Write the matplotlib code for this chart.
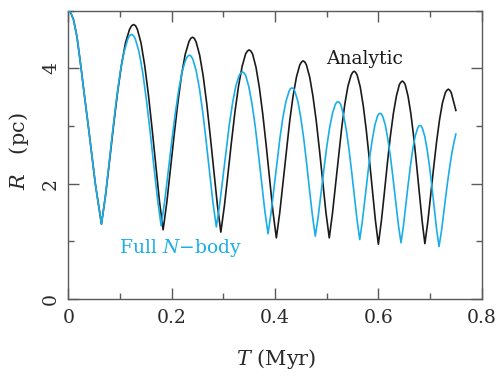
import matplotlib
matplotlib.use('Agg')
import matplotlib.pyplot as plt
from matplotlib.ticker import MultipleLocator, FixedLocator, FixedFormatter

# ---- data ----
t_analytic = [0.0000, 0.0050, 0.0100, 0.0168, 0.0246, 0.0300, 0.0350, 0.0400, 0.0460, 0.0523, 0.0585, 0.0642,
              0.0720, 0.0798, 0.0876, 0.0953, 0.1031, 0.1109, 0.1187, 0.1226, 0.1265,
              0.1301, 0.1336, 0.1408, 0.1479, 0.1550, 0.1621, 0.1693, 0.1764, 0.1835,
              0.1906, 0.1977, 0.2049, 0.2120, 0.2191, 0.2262, 0.2334, 0.2369, 0.2405,
              0.2439, 0.2473, 0.2542, 0.2610, 0.2679, 0.2747, 0.2815, 0.2884, 0.2952,
              0.3020, 0.3089, 0.3157, 0.3226, 0.3294, 0.3363, 0.3431, 0.3466, 0.3500,
              0.3533, 0.3566, 0.3632, 0.3697, 0.3763, 0.3829, 0.3895, 0.3960, 0.4026,
              0.4091, 0.4156, 0.4221, 0.4285, 0.4350, 0.4415, 0.4480, 0.4513, 0.4545,
              0.4577, 0.4608, 0.4671, 0.4734, 0.4798, 0.4861, 0.4924, 0.4987, 0.5050,
              0.5110, 0.5170, 0.5231, 0.5291, 0.5351, 0.5411, 0.5472, 0.5502, 0.5532,
              0.5561, 0.5591, 0.5649, 0.5708, 0.5766, 0.5825, 0.5883, 0.5942, 0.6000,
              0.6058, 0.6116, 0.6174, 0.6232, 0.6291, 0.6349, 0.6407, 0.6436, 0.6465,
              0.6492, 0.6519, 0.6574, 0.6628, 0.6683, 0.6737, 0.6791, 0.6846, 0.6900,
              0.6957, 0.7013, 0.7070, 0.7127, 0.7184, 0.7240, 0.7297, 0.7326, 0.7354,
              0.7382, 0.7410, 0.7466, 0.7500]
r_analytic = [5.00, 4.96, 4.85, 4.55, 4.02, 3.62, 3.27, 2.91, 2.47, 2.00, 1.64, 1.30,
              1.79, 2.39, 3.01, 3.58, 4.07, 4.45, 4.68, 4.74, 4.76,
              4.74, 4.68, 4.44, 4.05, 3.55, 2.96, 2.33, 1.70, 1.20,
              1.67, 2.26, 2.85, 3.40, 3.88, 4.24, 4.46, 4.52, 4.54,
              4.52, 4.46, 4.23, 3.87, 3.39, 2.83, 2.23, 1.64, 1.16,
              1.61, 2.16, 2.72, 3.25, 3.69, 4.03, 4.25, 4.30, 4.32,
              4.30, 4.25, 4.02, 3.67, 3.21, 2.67, 2.09, 1.52, 1.06,
              1.49, 2.03, 2.58, 3.09, 3.52, 3.85, 4.06, 4.11, 4.13,
              4.11, 4.06, 3.85, 3.52, 3.09, 2.58, 2.03, 1.49, 1.06,
              1.47, 1.97, 2.49, 2.97, 3.38, 3.69, 3.88, 3.93, 3.95,
              3.93, 3.88, 3.68, 3.35, 2.93, 2.43, 1.90, 1.37, 0.95,
              1.35, 1.84, 2.35, 2.82, 3.22, 3.52, 3.72, 3.76, 3.78,
              3.76, 3.72, 3.52, 3.22, 2.82, 2.35, 1.85, 1.36, 0.96,
              1.34, 1.81, 2.28, 2.73, 3.11, 3.40, 3.58, 3.62, 3.64,
              3.62, 3.58, 3.39, 3.27]

t_nbody = [0.0000, 0.0050, 0.0100, 0.0168, 0.0246, 0.0300, 0.0350, 0.0400, 0.0460, 0.0523, 0.0585, 0.0642,
           0.0715, 0.0788, 0.0861, 0.0933, 0.1006, 0.1079, 0.1152, 0.1189, 0.1225,
           0.1261, 0.1297, 0.1368, 0.1440, 0.1511, 0.1583, 0.1654, 0.1726, 0.1797,
           0.1865, 0.1934, 0.2002, 0.2071, 0.2139, 0.2208, 0.2276, 0.2311, 0.2345,
           0.2378, 0.2410, 0.2475, 0.2540, 0.2605, 0.2670, 0.2735, 0.2800, 0.2865,
           0.2928, 0.2991, 0.3054, 0.3117, 0.3181, 0.3244, 0.3307, 0.3338, 0.3370,
           0.3401, 0.3432, 0.3494, 0.3556, 0.3618, 0.3679, 0.3741, 0.3803, 0.3865,
           0.3923, 0.3981, 0.4039, 0.4097, 0.4155, 0.4213, 0.4271, 0.4300, 0.4329,
           0.4357, 0.4385, 0.4442, 0.4498, 0.4555, 0.4611, 0.4667, 0.4724, 0.4780,
           0.4835, 0.4890, 0.4945, 0.5000, 0.5055, 0.5110, 0.5165, 0.5192, 0.5220,
           0.5246, 0.5273, 0.5325, 0.5378, 0.5430, 0.5483, 0.5535, 0.5588, 0.5640,
           0.5689, 0.5738, 0.5787, 0.5836, 0.5885, 0.5934, 0.5983, 0.6007, 0.6032,
           0.6057, 0.6083, 0.6134, 0.6184, 0.6235, 0.6286, 0.6337, 0.6387, 0.6438,
           0.6484, 0.6530, 0.6576, 0.6622, 0.6668, 0.6714, 0.6760, 0.6783, 0.6806,
           0.6829, 0.6852, 0.6898, 0.6944, 0.6990, 0.7036, 0.7082, 0.7128, 0.7174,
           0.7223, 0.7273, 0.7322, 0.7372, 0.7422, 0.7471, 0.7500]
r_nbody = [5.00, 4.96, 4.85, 4.55, 4.02, 3.62, 3.27, 2.91, 2.47, 2.00, 1.64, 1.30,
           1.76, 2.34, 2.93, 3.47, 3.94, 4.28, 4.51, 4.57, 4.59,
           4.57, 4.51, 4.29, 3.93, 3.46, 2.91, 2.32, 1.74, 1.27,
           1.69, 2.21, 2.73, 3.22, 3.64, 3.96, 4.16, 4.21, 4.23,
           4.21, 4.16, 3.96, 3.64, 3.22, 2.72, 2.19, 1.67, 1.25,
           1.63, 2.10, 2.58, 3.03, 3.41, 3.70, 3.88, 3.92, 3.94,
           3.92, 3.88, 3.68, 3.38, 2.99, 2.52, 2.02, 1.53, 1.13,
           1.49, 1.93, 2.38, 2.80, 3.16, 3.43, 3.60, 3.65, 3.66,
           3.65, 3.60, 3.43, 3.15, 2.79, 2.36, 1.90, 1.45, 1.09,
           1.42, 1.83, 2.24, 2.63, 2.96, 3.21, 3.37, 3.41, 3.42,
           3.41, 3.37, 3.20, 2.94, 2.61, 2.21, 1.79, 1.37, 1.03,
           1.34, 1.72, 2.11, 2.48, 2.78, 3.02, 3.17, 3.21, 3.22,
           3.21, 3.17, 3.02, 2.77, 2.46, 2.08, 1.68, 1.29, 0.975,
           1.26, 1.62, 1.98, 2.32, 2.61, 2.83, 2.96, 3.00, 3.01,
           3.00, 2.96, 2.82, 2.59, 2.30, 1.95, 1.57, 1.20, 0.91,
           1.19, 1.55, 1.91, 2.24, 2.53, 2.75, 2.86]

x_ticks = [0.0, 0.2, 0.4, 0.6, 0.8]
x_tick_labels = ['0', '0.2', '0.4', '0.6', '0.8']
y_ticks = [0, 2, 4]
y_tick_labels = ['0', '2', '4']

series_labels = ['Analytic', 'Full $N$\u2212body']
x_label = '$T$ (Myr)'
y_label = '$R$   (pc)'

# ---- styling ----
plt.rcParams['font.family'] = ['DejaVu Serif']
plt.rcParams['mathtext.fontset'] = 'dejavuserif'

BLACK = '#1a1a1a'
CYAN = '#1aaee8'
AXC = '#5a5a5a'
TXT = '#2a2a2a'

fig = plt.figure(figsize=(5.02, 3.80), dpi=100)
ax = fig.add_axes([0.136, 0.2132, 0.8236, 0.7586])

ax.plot(t_analytic, r_analytic, color=BLACK, lw=1.2, zorder=2)
ax.plot(t_nbody, r_nbody, color=CYAN, lw=1.2, zorder=3)

ax.set_xlim(0, 0.8)
ax.set_ylim(0, 5)

ax.xaxis.set_major_locator(FixedLocator(x_ticks))
ax.xaxis.set_major_formatter(FixedFormatter(x_tick_labels))
ax.xaxis.set_minor_locator(MultipleLocator(0.1))
ax.yaxis.set_major_locator(FixedLocator(y_ticks))
ax.yaxis.set_major_formatter(FixedFormatter(y_tick_labels))
ax.yaxis.set_minor_locator(MultipleLocator(1))

ax.tick_params(which='both', direction='in', top=True, right=True,
               color=AXC, labelcolor=TXT, width=1.0)
ax.tick_params(which='major', length=8)
ax.tick_params(which='minor', length=4)
ax.tick_params(axis='x', labelsize=13.5, pad=7)
ax.tick_params(axis='y', labelsize=13.5, pad=6, labelrotation=90)
for lab in ax.get_yticklabels():
    lab.set_va('center')

for s in ax.spines.values():
    s.set_color(AXC)
    s.set_linewidth(1.0)

ax.text(0.574, 4.17, series_labels[0], color=BLACK, fontsize=13.5,
        ha='center', va='center')
ax.text(0.2175, 0.88, series_labels[1], color=CYAN, fontsize=13.5,
        ha='center', va='center')

fig.text(0.55, 0.054, x_label, fontsize=15, color=TXT,
         ha='center', va='center')
fig.text(0.037, 0.603, y_label, fontsize=15, color=TXT,
         ha='center', va='center', rotation=90)

fig.savefig('out.png', dpi=100)
